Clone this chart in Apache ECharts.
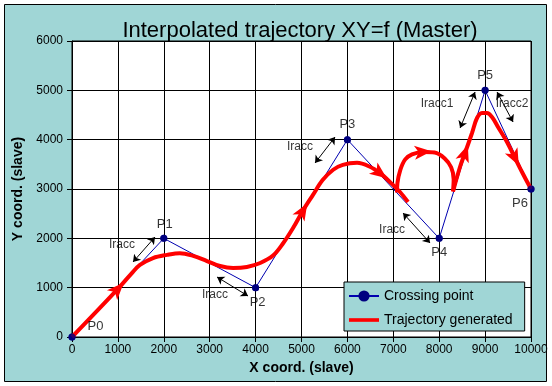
<!DOCTYPE html>
<html><head><meta charset="utf-8">
<script src="https://cdn.jsdelivr.net/npm/echarts@6/dist/echarts.min.js"></script>
<style>html,body{margin:0;padding:0;background:#fff}#c{width:552px;height:386px}</style>
</head><body><div id="c"></div>
<script>
// ---- data ----
const crossingPoints = [[0,0],[2000,2000],[4000,1000],[6000,4000],[8000,2000],[9000,5000],[10000,3000]];
const pointNames = ['P0','P1','P2','P3','P4','P5','P6'];
const trajApproach = [[0,0],[1000,975],[1300,1290],[1480,1460],[1765,1600],[2070,1665],[2350,1700],[2640,1645],[2940,1540],[3225,1440],[3510,1400],[3810,1420],[4100,1500],[4380,1650],[4600,1900],[4816,2209],[5030,2560],[5250,2880],[5460,3180],[5690,3390],[5900,3490],[6210,3530],[6490,3450],[6710,3320],[6930,3140],[7146,2939],[7320,2736]];
const trajLoop = [[7081,2930],[7090,3120],[7150,3380],[7260,3600],[7407,3700],[7647,3750],[7900,3740],[8120,3620],[8260,3440],[8315,3200],[8301,2950]];
const trajFinal = [[8301,2950],[8453,3446],[8562,3730],[8715,4135],[8824,4439],[8932,4541],[9041,4541],[9150,4459],[9281,4257],[9477,3953],[9651,3628],[9804,3345],[10000,3000]];
const arrowPoints = [[1000,975],[5030,2560],[6710,3320],[7647,3750],[8562,3730],[9651,3628]];
const iraccArrows = [[[1329,1520],[1809,2027]],[[3160,1216],[3835,831]],[[5295,3527],[5731,4054]],[[7212,2513],[7801,1905]],[[8455,4236],[8781,4966]],[[9260,4966],[9609,4358]]];
const iraccTexts = ['Iracc','Iracc','Iracc','Iracc','Iracc1','Iracc2'];
const iraccTextPos = [[1090,1865],[3116,851],[4968,3851],[6973,2169],[7953,4723],[9588,4723]];
const xMin = 0, xMax = 10000, xStep = 1000;
const yMin = 0, yMax = 6000, yStep = 1000;

// ---- styles ----
const TEAL = '#a0d6d6';
const FONT = 'Arial, "Liberation Sans", sans-serif';
const labelPlacement = [
  {position:'right', offset:[7,-11]},
  {position:'top', offset:[1,1]},
  {position:'bottom', offset:[2,0]},
  {position:'top', offset:[0,0]},
  {position:'bottom', offset:[0,-1]},
  {position:'top', offset:[0,0]},
  {position:'bottom', offset:[-11,-1]}
];
const allTraj = [trajApproach, trajLoop, trajFinal];

const chart = echarts.init(document.getElementById('c'), null, {renderer:'canvas'});

function redSeries(data){
  return {name:'Trajectory generated', type:'line', data:data, smooth:0.35, symbol:'none', showSymbol:false,
    lineStyle:{color:'#ff0000', width:4}, itemStyle:{color:'#ff0000'}, z:3, clip:false, animation:false};
}
const ARROW = 'path://M0,-10 L6,6 L0,2 L-6,6 Z';

const option = {
  animation:false,
  backgroundColor:'#ffffff',
  graphic:[{type:'rect', z:-10, silent:true, shape:{x:4.5,y:4.5,width:542,height:377},
    style:{fill:TEAL, stroke:'#000', lineWidth:1}}],
  title:{text:'Interpolated trajectory XY=f (Master)', left:295, textAlign:'center', top:15,
    textStyle:{fontFamily:FONT, fontSize:22, fontWeight:'normal', color:'#000'}},
  grid:{left:72, right:21, top:41, bottom:49, show:true, backgroundColor:'#fff', borderColor:'#000', borderWidth:1},
  legend:{data:[{name:'Crossing point'},{name:'Trajectory generated', icon:'path://M0,0 L33,0 L33,4 L0,4 Z', itemStyle:{color:'#ff0000'}}],
    orient:'vertical', left:344, top:282, symbolKeepAspect:true,
    backgroundColor:TEAL, borderColor:'#000', borderWidth:1, borderRadius:0,
    padding:[7,12,4,4], itemGap:10, itemWidth:30, itemHeight:14,
    textStyle:{fontFamily:FONT, fontSize:14, color:'#000'}},
  xAxis:{type:'value', min:xMin, max:xMax, interval:xStep, name:'X coord. (slave)', nameLocation:'middle', nameGap:23,
    nameTextStyle:{fontFamily:FONT, fontSize:14, fontWeight:'bold', color:'#000'},
    axisLine:{lineStyle:{color:'#000', width:1}}, axisTick:{show:true, length:5, lineStyle:{color:'#000'}},
    axisLabel:{margin:7, fontFamily:FONT, fontSize:12, color:'#000', formatter:v=>String(v)},
    splitLine:{show:true, lineStyle:{color:'#000', width:1}}},
  yAxis:{type:'value', min:yMin, max:yMax, interval:yStep, name:'Y coord. (slave)', nameLocation:'middle', nameGap:38,
    nameTextStyle:{fontFamily:FONT, fontSize:14, fontWeight:'bold', color:'#000'},
    axisLine:{show:true, lineStyle:{color:'#000', width:1}}, axisTick:{show:true, length:5, lineStyle:{color:'#000'}},
    axisLabel:{margin:9, fontFamily:FONT, fontSize:12, color:'#000', formatter:v=>String(v)},
    splitLine:{show:true, lineStyle:{color:'#000', width:1}}},
  series:[
    {name:'Crossing point', type:'line', data:crossingPoints, symbol:'circle', symbolSize:7, showSymbol:true,
      lineStyle:{color:'#0000b0', width:1}, itemStyle:{color:'#000080'}, z:2, clip:false},
    redSeries(trajApproach), redSeries(trajLoop), redSeries(trajFinal),
    {name:'arrows', type:'scatter', data:arrowPoints, symbol:ARROW,
      symbolSize:[14,17], itemStyle:{color:'#ff0000', opacity:1}, z:6, clip:false, silent:true},
    {name:'points', type:'scatter', data:crossingPoints.map((p,i)=>({value:p, name:pointNames[i],
        label:{show:true, position:labelPlacement[i].position, offset:labelPlacement[i].offset}})),
      symbol:'circle', symbolSize:7, itemStyle:{color:'#000080'}, z:7, clip:false, silent:true,
      label:{formatter:'{b}', fontFamily:FONT, fontSize:13, color:'#000', distance:5}},
    {name:'iraccArrows', type:'lines', coordinateSystem:'cartesian2d', z:4, silent:true,
      data:iraccArrows.map(c=>({coords:c})), symbol:['arrow','arrow'], symbolSize:7,
      lineStyle:{color:'#000', width:1, opacity:1}},
    {name:'iraccText', type:'scatter', data:iraccTextPos.map((p,i)=>({value:p, name:iraccTexts[i]})),
      symbol:'circle', symbolSize:1, itemStyle:{color:'rgba(0,0,0,0)'}, z:4, silent:true, clip:false,
      label:{show:true, position:'inside', formatter:'{b}', fontFamily:FONT, fontSize:12, color:'#000'}}
  ]
};
chart.setOption(option);

// orient arrowheads along the trajectory direction
function toPx(p){ return chart.convertToPixel({seriesIndex:0}, p); }
function directionAt(pt){
  for (const seg of allTraj){
    for (let i=0;i<seg.length;i++){
      if (seg[i][0]===pt[0] && seg[i][1]===pt[1]){
        const a = seg[Math.max(0,i-1)], b = seg[Math.min(seg.length-1,i+1)];
        const pa = toPx(a), pb = toPx(b);
        if (!pa || !pb) return 0;
        const dx = pb[0]-pa[0], dy = pb[1]-pa[1];
        const r = Math.atan2(-dx, -dy)*180/Math.PI;
        return isFinite(r) ? r : 0;
      }
    }
  }
  return 0;
}
const rotated = arrowPoints.map(p=>({value:p, symbolRotate:directionAt(p)}));
chart.setOption({series:[{},{},{},{}, {data:rotated}]});
</script></body></html>
